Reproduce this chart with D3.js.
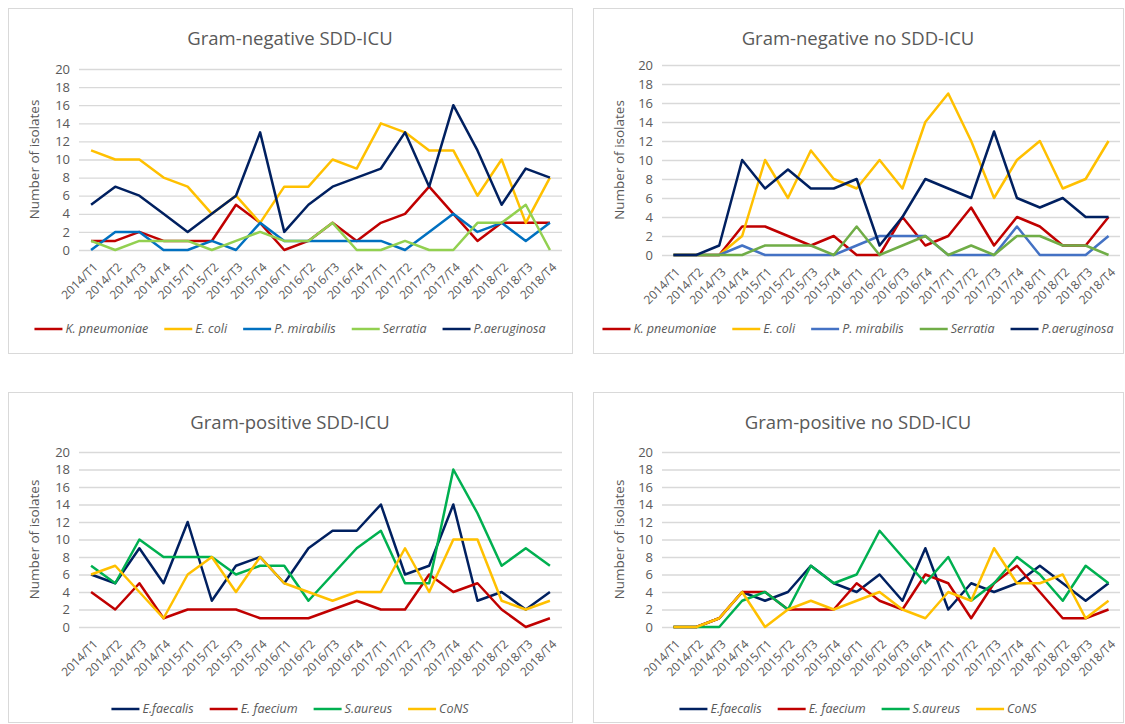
<!DOCTYPE html>
<html>
<head>
<meta charset="utf-8">
<script src="https://cdn.jsdelivr.net/npm/d3@7"></script>
<style>
  body { margin: 0; background: #fff; }
  svg { display: block; font-family: "Open Sans", sans-serif; }
</style>
</head>
<body>
<svg id="chart" width="1125" height="724"></svg>
<script>
const quarters = [
    "2014/T1", "2014/T2", "2014/T3", "2014/T4",
    "2015/T1", "2015/T2", "2015/T3", "2015/T4",
    "2016/T1", "2016/T2", "2016/T3", "2016/T4",
    "2017/T1", "2017/T2", "2017/T3", "2017/T4",
    "2018/T1", "2018/T2", "2018/T3", "2018/T4"
];
const yTicks = [0, 2, 4, 6, 8, 10, 12, 14, 16, 18, 20];

// Gram-negative, SDD-ICU
const gnSddKpneumoniae = [1, 1, 2, 1, 1, 1, 5, 3, 0, 1, 3, 1, 3, 4, 7, 4, 1, 3, 3, 3];
const gnSddEcoli       = [11, 10, 10, 8, 7, 4, 6, 3, 7, 7, 10, 9, 14, 13, 11, 11, 6, 10, 3, 8];
const gnSddPmirabilis  = [0, 2, 2, 0, 0, 1, 0, 3, 1, 1, 1, 1, 1, 0, 2, 4, 2, 3, 1, 3];
const gnSddSerratia    = [1, 0, 1, 1, 1, 0, 1, 2, 1, 1, 3, 0, 0, 1, 0, 0, 3, 3, 5, 0];
const gnSddPaeruginosa = [5, 7, 6, 4, 2, 4, 6, 13, 2, 5, 7, 8, 9, 13, 7, 16, 11, 5, 9, 8];

// Gram-negative, no SDD-ICU
const gnNoKpneumoniae = [0, 0, 0, 3, 3, 2, 1, 2, 0, 0, 4, 1, 2, 5, 1, 4, 3, 1, 1, 4];
const gnNoEcoli       = [0, 0, 0, 2, 10, 6, 11, 8, 7, 10, 7, 14, 17, 12, 6, 10, 12, 7, 8, 12];
const gnNoPmirabilis  = [0, 0, 0, 1, 0, 0, 0, 0, 1, 2, 2, 2, 0, 0, 0, 3, 0, 0, 0, 2];
const gnNoSerratia    = [0, 0, 0, 0, 1, 1, 1, 0, 3, 0, 1, 2, 0, 1, 0, 2, 2, 1, 1, 0];
const gnNoPaeruginosa = [0, 0, 1, 10, 7, 9, 7, 7, 8, 1, 4, 8, 7, 6, 13, 6, 5, 6, 4, 4];

// Gram-positive, SDD-ICU
const gpSddEfaecalis = [6, 5, 9, 5, 12, 3, 7, 8, 5, 9, 11, 11, 14, 6, 7, 14, 3, 4, 2, 4];
const gpSddEfaecium  = [4, 2, 5, 1, 2, 2, 2, 1, 1, 1, 2, 3, 2, 2, 6, 4, 5, 2, 0, 1];
const gpSddSaureus   = [7, 5, 10, 8, 8, 8, 6, 7, 7, 3, 6, 9, 11, 5, 5, 18, 13, 7, 9, 7];
const gpSddCoNS      = [6, 7, 4, 1, 6, 8, 4, 8, 5, 4, 3, 4, 4, 9, 4, 10, 10, 3, 2, 3];

// Gram-positive, no SDD-ICU
const gpNoEfaecalis = [0, 0, 1, 4, 3, 4, 7, 5, 4, 6, 3, 9, 2, 5, 4, 5, 7, 5, 3, 5];
const gpNoEfaecium  = [0, 0, 1, 4, 4, 2, 2, 2, 5, 3, 2, 6, 5, 1, 5, 7, 4, 1, 1, 2];
const gpNoSaureus   = [0, 0, 0, 3, 4, 2, 7, 5, 6, 11, 8, 5, 8, 3, 5, 8, 6, 3, 7, 5];
const gpNoCoNS      = [0, 0, 1, 4, 0, 2, 3, 2, 3, 4, 2, 1, 4, 3, 9, 5, 5, 6, 1, 3];

const svg = d3.select("#chart");

const panels = [
    {
        title: "Gram-negative SDD-ICU",
        box: [8, 8, 572, 353], plot: [79, 69, 562, 250], legendY: 329,
        series: [
            { name: "K. pneumoniae", values: gnSddKpneumoniae, color: "#C00000" },
            { name: "E. coli", values: gnSddEcoli, color: "#FFC000" },
            { name: "P. mirabilis", values: gnSddPmirabilis, color: "#0070C0" },
            { name: "Serratia", values: gnSddSerratia, color: "#92D050" },
            { name: "P.aeruginosa", values: gnSddPaeruginosa, color: "#002060" }
        ]
    },
    {
        title: "Gram-negative no SDD-ICU",
        box: [593, 8, 1123, 353], plot: [662, 65, 1120, 255], legendY: 329,
        series: [
            { name: "K. pneumoniae", values: gnNoKpneumoniae, color: "#C00000" },
            { name: "E. coli", values: gnNoEcoli, color: "#FFC000" },
            { name: "P. mirabilis", values: gnNoPmirabilis, color: "#4472C4" },
            { name: "Serratia", values: gnNoSerratia, color: "#70AD47" },
            { name: "P.aeruginosa", values: gnNoPaeruginosa, color: "#002060" }
        ]
    },
    {
        title: "Gram-positive SDD-ICU",
        box: [8, 392, 572, 722], plot: [79, 452, 562, 627], legendY: 709,
        series: [
            { name: "E.faecalis", values: gpSddEfaecalis, color: "#002060" },
            { name: "E. faecium", values: gpSddEfaecium, color: "#C00000" },
            { name: "S.aureus", values: gpSddSaureus, color: "#00B050" },
            { name: "CoNS", values: gpSddCoNS, color: "#FFC000" }
        ]
    },
    {
        title: "Gram-positive no SDD-ICU",
        box: [593, 392, 1123, 722], plot: [662, 452, 1120, 627], legendY: 709,
        series: [
            { name: "E.faecalis", values: gpNoEfaecalis, color: "#002060" },
            { name: "E. faecium", values: gpNoEfaecium, color: "#C00000" },
            { name: "S.aureus", values: gpNoSaureus, color: "#00B050" },
            { name: "CoNS", values: gpNoCoNS, color: "#FFC000" }
        ]
    }
];

panels.forEach(drawPanel);

function drawPanel(p) {
    const [bx0, by0, bx1, by1] = p.box;
    const [px0, py0, px1, py1] = p.plot;
    const g = svg.append("g");

    g.append("rect")
        .attr("x", bx0 + 0.5).attr("y", by0 + 0.5)
        .attr("width", bx1 - bx0).attr("height", by1 - by0)
        .attr("fill", "#fff").attr("stroke", "#d9d9d9");

    g.append("text")
        .attr("x", (bx0 + bx1) / 2)
        .attr("y", by0 + 37)
        .attr("text-anchor", "middle")
        .attr("font-size", "18.5px")
        .attr("fill", "#595959")
        .text(p.title);

    const x = d3.scalePoint().domain(quarters).range([px0, px1]).padding(0.5);
    const y = d3.scaleLinear().domain([0, 20]).range([py1, py0]);

    // gridlines + y labels
    g.append("g")
        .attr("transform", `translate(${px0},0)`)
        .call(d3.axisLeft(y).tickValues(yTicks).tickSize(0).tickPadding(9))
        .call(a => a.select(".domain").remove())
        .call(a => a.selectAll("text").attr("font-size", "13px").attr("fill", "#595959").attr("font-family", "Open Sans"))
        .call(a => a.selectAll(".tick").append("line")
            .attr("x2", px1 - px0).attr("stroke", "#d9d9d9").attr("stroke-width", 1.3));

    g.append("text")
        .attr("transform", `translate(${bx0 + 31},${(py0 + py1) / 2}) rotate(-90)`)
        .attr("text-anchor", "middle")
        .attr("font-size", "13.5px")
        .attr("fill", "#595959")
        .text("Number of isolates");

    // x labels
    g.append("g")
        .attr("transform", `translate(0,${py1})`)
        .call(d3.axisBottom(x).tickSize(0).tickPadding(0))
        .call(a => a.select(".domain").remove())
        .selectAll("text")
        .attr("font-size", "12px")
        .attr("fill", "#595959")
        .attr("font-family", "Open Sans")
        .attr("text-anchor", "end")
        .attr("dy", "0.35em")
        .attr("transform", "translate(4,15) rotate(-45)");

    const line = d3.line()
        .x((d, i) => x(quarters[i]))
        .y(d => y(d));

    p.series.forEach(s => {
        g.append("path")
            .datum(s.values)
            .attr("fill", "none")
            .attr("stroke", s.color)
            .attr("stroke-width", 2.5)
            .attr("stroke-linejoin", "round")
            .attr("d", line);
    });

    // legend, centred in the box
    const leg = g.append("g");
    let cx = 0;
    p.series.forEach(s => {
        const item = leg.append("g").attr("transform", `translate(${cx},0)`);
        item.append("line")
            .attr("x1", 0).attr("x2", 28)
            .attr("stroke", s.color).attr("stroke-width", 2.5);
        const t = item.append("text")
            .attr("x", 31).attr("dy", "0.35em")
            .attr("font-size", "12.5px")
            .attr("font-style", "italic")
            .attr("fill", "#595959")
            .text(s.name);
        cx += 31 + t.node().getComputedTextLength() + 16;
    });
    const legW = cx - 16;
    leg.attr("transform", `translate(${(bx0 + bx1) / 2 - legW / 2},${p.legendY})`);
}
</script>
</body>
</html>
